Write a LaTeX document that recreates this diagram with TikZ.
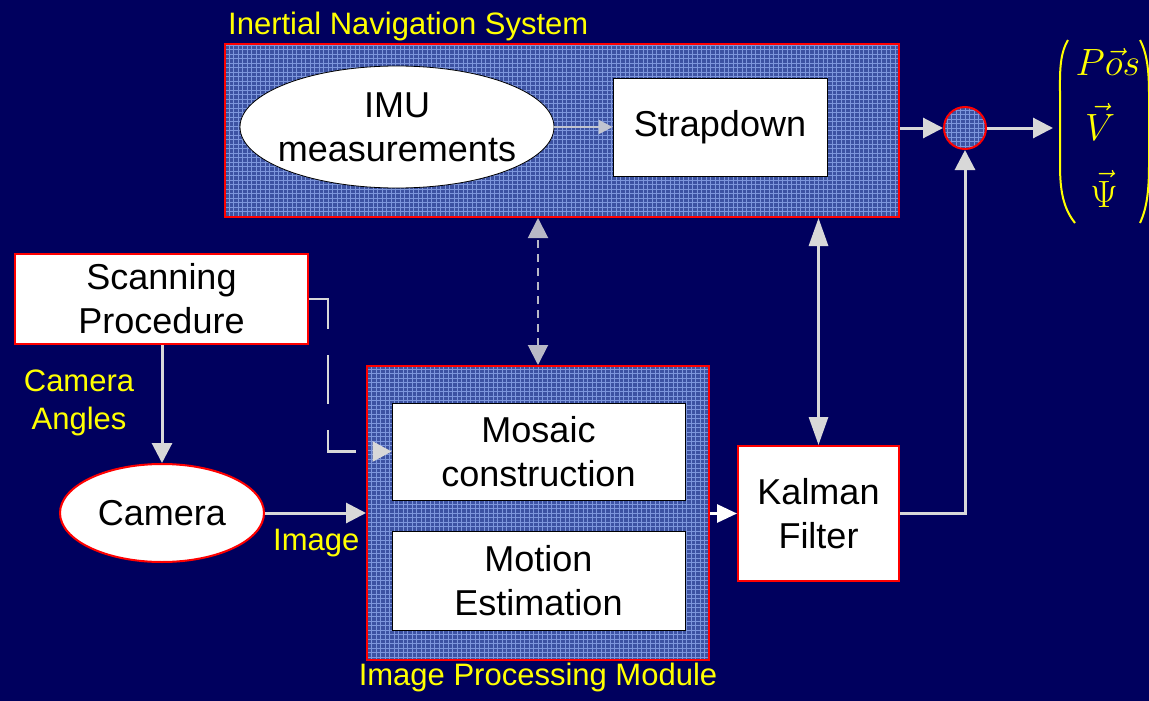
\RequirePackage{fix-cm}
\documentclass[tikz,border=0pt]{standalone}
\usepackage{fontspec}
\setmainfont{Liberation Sans}
\usetikzlibrary{arrows.meta,shapes.geometric,calc}
\definecolor{bgnavy}{RGB}{0,0,94}
\definecolor{gridfill}{RGB}{60,82,162}
\definecolor{gridline}{RGB}{125,150,220}
\definecolor{arrgray}{RGB}{216,216,216}
\definecolor{lblyellow}{RGB}{255,255,0}
\tikzset{
  gridded/.style={draw=red, line width=2pt,
    path picture={
      \fill[gridfill] (path picture bounding box.south west) rectangle (path picture bounding box.north east);
      \draw[gridline, line width=0.5pt, step=4.5pt] (path picture bounding box.south west) grid (path picture bounding box.north east);
    }},
  boxtext/.style={font=\fontsize{36}{44}\selectfont, align=center, text=black, inner sep=0pt},
  whitebox/.style={rectangle, fill=white, draw=black, line width=0.8pt, inner sep=0pt,
    font=\fontsize{36}{44}\selectfont, align=center, text=black},
  redbox/.style={whitebox, draw=red, line width=2pt},
  ylabel/.style={text=lblyellow, font=\fontsize{31}{38}\selectfont, inner sep=0pt, align=center},
  arr/.style={draw=arrgray, line width=3pt, -{Triangle[length=20pt,width=20pt]}},
  darr/.style={draw=arrgray, line width=3pt, {Triangle[length=28pt,width=19pt]}-{Triangle[length=28pt,width=19pt]}},
  thinarr/.style={draw=arrgray!85!gridfill, line width=2pt, -{Triangle[length=14pt,width=14pt]}},
  dasharr/.style={draw=arrgray!85!bgnavy, line width=2pt, dash pattern=on 8pt off 6pt,
    {Triangle[length=20pt,width=20pt]}-{Triangle[length=20pt,width=20pt]}},
  longdash/.style={draw=arrgray, line width=2.5pt, dash pattern=on 49pt off 26pt,
    -{Triangle[length=19pt,width=20pt]}},
  whitearr/.style={draw=white, line width=3pt, -{Triangle[length=20pt,width=18pt]}},
  vecsym/.style={text=lblyellow, font=\fontsize{38}{40}\selectfont, inner sep=0pt}
}
\begin{document}
\begin{tikzpicture}[x=1pt,y=-1pt]
\fill[bgnavy] (0,0) rectangle (1149,701);
\useasboundingbox (0,0) rectangle (1149,701);

% Inertial Navigation System
\node[gridded, rectangle, minimum width=674pt, minimum height=173pt, inner sep=0pt] (ins) at (562,130.5) {};
\node[ylabel, anchor=base west] (inslbl) at (228,35) {Inertial Navigation System};
\node[ellipse, fill=white, draw=black, line width=0.8pt, minimum width=314pt, minimum height=122pt, inner sep=0pt] (imu) at (397,127) {};
\node[boxtext] (imutxt) at (397,127) {IMU\\measurements};
\node[whitebox, minimum width=214pt, minimum height=98pt] (strap) at (720,127) {Strapdown};

% summing circle
\node[gridded, circle, minimum size=42pt, inner sep=0pt] (sum) at (965,128) {};

% output vector
\coordinate (vec) at (1053,128);
\draw[lblyellow, line width=2pt] (1068,40) .. controls (1059,55) and (1060,75) .. (1060,95) -- (1060,165) .. controls (1060,190) and (1063,208) .. (1075,223);
\draw[lblyellow, line width=2pt] (1140,40) .. controls (1148,55) and (1149,75) .. (1149,95) -- (1149,165) .. controls (1149,190) and (1147,208) .. (1140,223);
\node[vecsym, anchor=base] (pos) at (1108,75) {$P\vec{o}s$};
\node[vecsym, anchor=base] (vv) at (1100,140) {$\vec{V}$};
\node[vecsym, anchor=base] (psi) at (1104,207) {$\vec{\Psi}$};

% Image Processing Module
\node[gridded, rectangle, minimum width=342pt, minimum height=294pt, inner sep=0pt] (ipm) at (538,513) {};
\node[ylabel, anchor=base] (ipmlbl) at (538,685) {Image Processing Module};
\node[whitebox, minimum width=293pt, minimum height=97pt] (mosaic) at (538.5,451.5) {Mosaic\\construction};
\node[whitebox, minimum width=293pt, minimum height=99pt] (motion) at (538.5,580.5) {Motion\\Estimation};

% Kalman filter
\node[redbox, minimum width=161pt, minimum height=135pt] (kalman) at (818.5,513.5) {Kalman\\Filter};

% Scanning procedure and camera
\node[redbox, minimum width=293pt, minimum height=90pt] (scan) at (161.5,299) {Scanning\\Procedure};
\node[redbox, ellipse, minimum width=204pt, minimum height=98pt] (camera) at (162,513) {};
\node[boxtext] (camtxt) at (162,513) {Camera};
\node[ylabel] (angles) at (79,403) {Camera\\Angles};
\node[ylabel, anchor=base west] (imglbl) at (273,550) {Image};

% connectors
\draw[thinarr] (imu.east) -- (strap.west);
\draw[arr] (sum -| ins.east) -- (sum.west);
\draw[arr] (sum.east) -- (vec);
\draw[arr] (kalman.east) -| (sum.south);
\draw[darr] (kalman.north) -- (kalman.north |- ins.south);
\draw[dasharr] (ipm.north) -- (ipm.north |- ins.south);
\draw[whitearr] (ipm.east |- kalman.west) -- (kalman.west);
\draw[arr] (camera.east) -- (camera.east -| ipm.west);
\draw[arr] (scan.south -| camera.north) -- (camera.north);
\coordinate (bend) at (328,451.5);
\draw[longdash] (scan.east) -| (bend) -- (mosaic.west);
\end{tikzpicture}
\end{document}
